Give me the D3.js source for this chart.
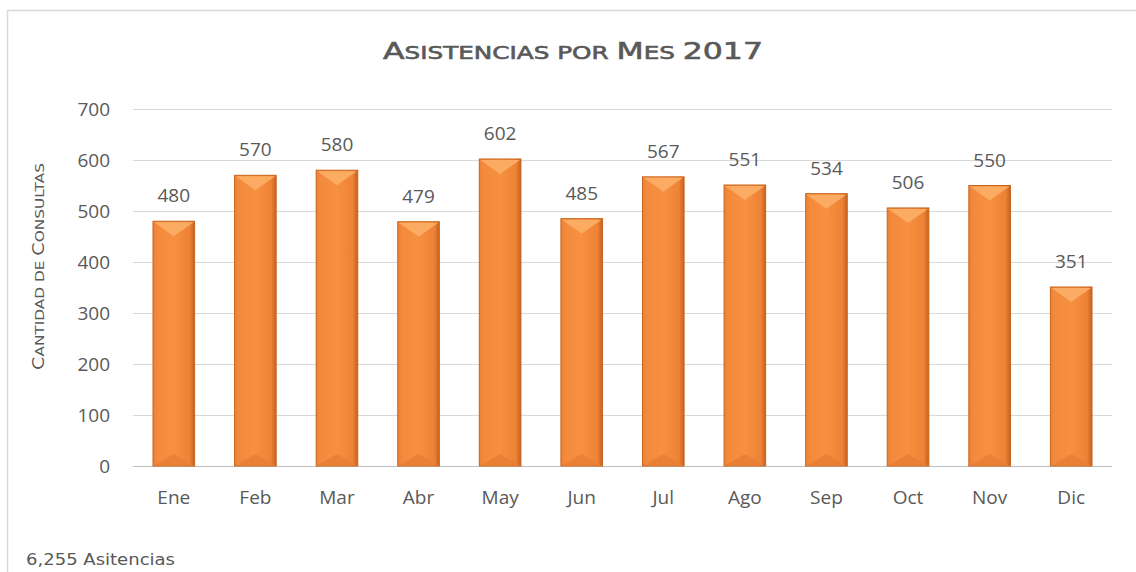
<!DOCTYPE html>
<html>
<head>
<meta charset="utf-8">
<script src="https://cdn.jsdelivr.net/npm/d3@7"></script>
<style>
  body { margin: 0; background: #fff; }
  text { font-family: "Open Sans", "DejaVu Sans", sans-serif; fill: #595959; }
</style>
</head>
<body>
<script>
// data
var months = ["Ene", "Feb", "Mar", "Abr", "May", "Jun", "Jul", "Ago", "Sep", "Oct", "Nov", "Dic"];
var asistencias = [480, 570, 580, 479, 602, 485, 567, 551, 534, 506, 550, 351];
var yTicks = [0, 100, 200, 300, 400, 500, 600, 700];

var W = 1136, H = 572;
var plotLeft = 133, plotRight = 1112, plotTop = 109, plotBottom = 466;

var svg = d3.select("body").append("svg")
  .attr("width", W)
  .attr("height", H);

// chart frame (runs off the right and bottom of the picture)
svg.append("path")
  .attr("d", "M7.5," + H + "V10.5H" + W)
  .attr("fill", "none")
  .attr("stroke", "#d9d9d9")
  .attr("stroke-width", 1.5);

var x = d3.scaleBand().domain(months).range([plotLeft, plotRight]).paddingInner(0.49).paddingOuter(0.245);
var y = d3.scaleLinear().domain([0, 700]).range([plotBottom, plotTop]);

// gradient for the bevelled bars
var defs = svg.append("defs");
var g = defs.append("linearGradient").attr("id", "barGrad")
  .attr("x1", "0").attr("x2", "1").attr("y1", "0").attr("y2", "0");
g.append("stop").attr("offset", "0").attr("stop-color", "#ee8236");
g.append("stop").attr("offset", "0.12").attr("stop-color", "#f38a3c");
g.append("stop").attr("offset", "0.5").attr("stop-color", "#f79040");
g.append("stop").attr("offset", "0.88").attr("stop-color", "#ee8236");
g.append("stop").attr("offset", "1").attr("stop-color", "#c4611f");

// gridlines
svg.append("g").selectAll("line")
  .data(yTicks)
  .enter().append("line")
  .attr("x1", plotLeft).attr("x2", plotRight)
  .attr("y1", function (d) { return Math.round(y(d)) + 0.5; })
  .attr("y2", function (d) { return Math.round(y(d)) + 0.5; })
  .attr("stroke", function (d) { return d === 0 ? "#bfbfbf" : "#d9d9d9"; })
  .attr("stroke-width", 1);

// y axis labels
var yAxis = svg.append("g")
  .attr("transform", "translate(" + (plotLeft - 23) + ",0)")
  .call(d3.axisLeft(y).tickValues(yTicks).tickSize(0).tickPadding(0));
yAxis.select(".domain").remove();
yAxis.selectAll("text")
  .style("font-size", "19px")
  .attr("fill", "#595959");

// x axis labels
var xAxis = svg.append("g")
  .attr("transform", "translate(0," + plotBottom + ")")
  .call(d3.axisBottom(x).tickSize(0).tickPadding(25));
xAxis.select(".domain").remove();
xAxis.selectAll("text")
  .style("font-size", "19px")
  .attr("fill", "#595959");

// bars
var bars = svg.append("g").selectAll("g.bar")
  .data(asistencias)
  .enter().append("g").attr("class", "bar");

bars.append("rect")
  .attr("x", function (d, i) { return x(months[i]); })
  .attr("y", function (d) { return y(d); })
  .attr("width", x.bandwidth())
  .attr("height", function (d) { return plotBottom - y(d); })
  .attr("fill", "url(#barGrad)")
  .attr("stroke", "#c8651f")
  .attr("stroke-width", 1);

// top bevel (light triangle)
bars.append("path")
  .attr("d", function (d, i) {
    var x0 = x(months[i]), w = x.bandwidth(), t = y(d);
    return "M" + (x0 + 1) + "," + (t + 1) + "L" + (x0 + w - 1) + "," + (t + 1) + "L" + (x0 + w / 2) + "," + (t + 15) + "Z";
  })
  .attr("fill", "#fbab62");

// bottom bevel (slightly darker)
bars.append("path")
  .attr("d", function (d, i) {
    var x0 = x(months[i]), w = x.bandwidth();
    return "M" + (x0 + 1) + "," + (plotBottom - 0.5) + "L" + (x0 + w - 1) + "," + (plotBottom - 0.5) + "L" + (x0 + w / 2) + "," + (plotBottom - 12) + "Z";
  })
  .attr("fill", "#e98035");

// value labels
bars.append("text")
  .attr("x", function (d, i) { return x(months[i]) + x.bandwidth() / 2; })
  .attr("y", function (d) { return y(d) - 19; })
  .attr("text-anchor", "middle")
  .style("font-size", "19px")
  .attr("fill", "#404040")
  .text(function (d) { return d; });

// title
var title = svg.append("text")
  .attr("x", 383).attr("y", 59)
  .attr("textLength", 380)
  .attr("lengthAdjust", "spacingAndGlyphs")
  .style("font-family", "'DejaVu Sans', sans-serif")
  .style("font-size", "23px")
  .attr("fill", "#595959")
  .attr("stroke", "#595959")
  .attr("stroke-width", 0.6);
title.append("tspan").text("A");
title.append("tspan").style("font-size", "18px").text("SISTENCIAS POR ");
title.append("tspan").text("M");
title.append("tspan").style("font-size", "18px").text("ES ");
title.append("tspan").text("2017");

// y axis title
var yt = svg.append("text")
  .attr("transform", "translate(43.5,266.5) rotate(-90)")
  .attr("x", -103.5)
  .attr("textLength", 207)
  .attr("lengthAdjust", "spacingAndGlyphs")
  .style("font-family", "'DejaVu Sans', sans-serif")
  .style("font-size", "15px")
  .attr("fill", "#404040");
yt.append("tspan").text("C");
yt.append("tspan").style("font-size", "12px").text("ANTIDAD DE ");
yt.append("tspan").text("C");
yt.append("tspan").style("font-size", "12px").text("ONSULTAS");

// footnote
svg.append("text")
  .attr("x", 26).attr("y", 565)
  .attr("textLength", 149)
  .attr("lengthAdjust", "spacingAndGlyphs")
  .style("font-family", "'DejaVu Sans', sans-serif")
  .style("font-size", "16px")
  .attr("fill", "#595959")
  .text("6,255 Asitencias");
</script>
</body>
</html>
